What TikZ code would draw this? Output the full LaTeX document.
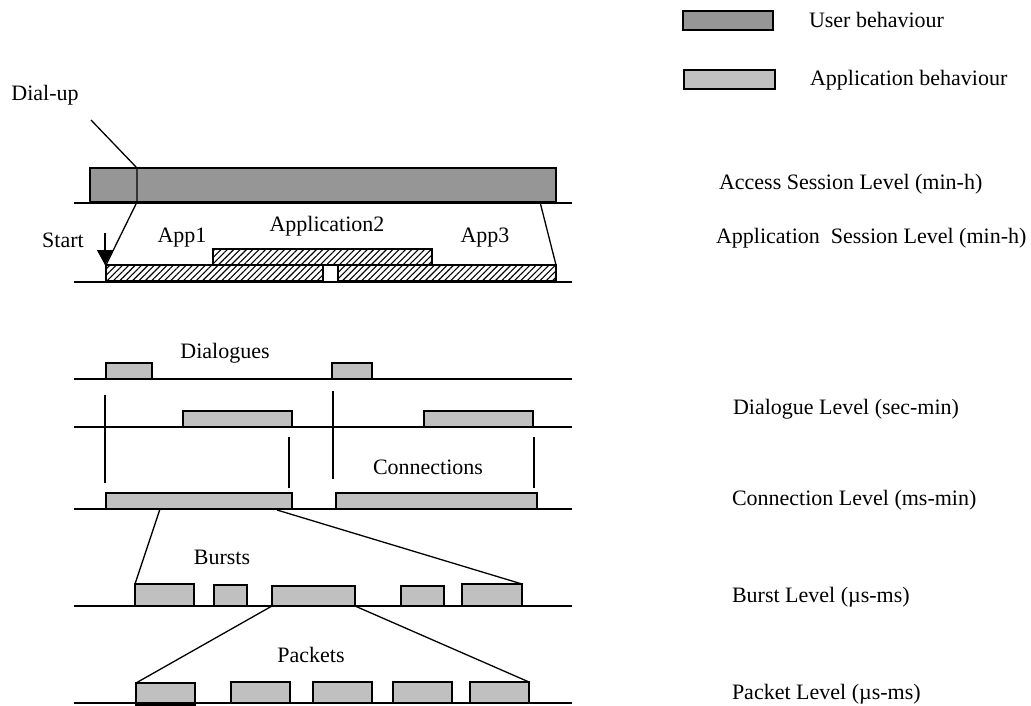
\documentclass[tikz,border=0pt]{standalone}
\usepackage{fontspec}
\setmainfont{Liberation Serif}
\usetikzlibrary{patterns.meta,arrows.meta}
\definecolor{usergray}{RGB}{150,150,150}
\definecolor{appgray}{RGB}{192,192,192}
\tikzset{
  every node/.style={font=\fontsize{22}{26}\selectfont, inner sep=0pt, outer sep=0pt},
  lvl/.style={line width=1.6pt},
  conn/.style={line width=1.3pt},
  userbox/.style={draw, line width=1.3pt, fill=usergray, anchor=south west},
  appbox/.style={draw, line width=1.3pt, fill=appgray, anchor=south west},
  hatchbox/.style={draw, line width=1.2pt, fill=white, anchor=south west,
     postaction={pattern={Lines[angle=45,distance=4.5pt,line width=1.1pt]}}},
  lbl/.style={anchor=west},
}
\newcommand{\bx}[6]{% style, name, x1, y1(top), x2, y2(bottom)
  \node[#1, minimum width={#5-#3}, minimum height={#6-#4}] (#2) at (#3,#6) {};}
\begin{document}
\begin{tikzpicture}[x=1pt,y=-1pt]
\useasboundingbox (0,0) rectangle (1031,706);
% legend
\bx{userbox}{legU}{683}{11}{773}{30}
\node[lbl] (legUt) at (809,20) {User behaviour};
\bx{appbox}{legA}{684}{70}{775}{89}
\node[lbl] (legAt) at (810,80) {Application behaviour};
% right labels
\node[lbl] (l1) at (719,184) {Access Session Level (min-h)};
\node[lbl] (l2) at (716,238) {Application\ \ Session Level (min-h)};
\node[lbl] (l3) at (733,409) {Dialogue Level (sec-min)};
\node[lbl] (l4) at (732,500) {Connection Level (ms-min)};
\node[lbl] (l5) at (732,597) {Burst Level (µs-ms)};
\node[lbl] (l6) at (732,694) {Packet Level (µs-ms)};
% level 1
\bx{userbox}{sess}{90}{168}{556}{202}
\draw[lvl] (74,203) coordinate (L1a) -- (572,203) coordinate (L1b);
\node (dial) at (45,95) {Dial-up};
\coordinate (dialA) at (91,120);
\coordinate (dialT) at (137,168);
\coordinate (dialB) at (137,202);
\coordinate (sessR) at (540,202);
\draw[conn] (dialA) -- (dialT) -- (dialB);
% level 2
\bx{hatchbox}{happ2}{213}{249}{432}{265}
\bx{hatchbox}{happ1}{106}{265}{323}{281}
\bx{hatchbox}{happ3}{338}{265}{556}{281}
\draw[lvl] (74,282) -- (572,282);
\draw[conn] (dialB) -- (happ1.north west);
\draw[conn] (sessR) -- (happ3.north east);
\node (start) at (63,240) {Start};
\coordinate (startA) at (105,233);
\draw[conn,-{Triangle[width=16pt,length=15pt]}] (startA) -- (happ1.north west -| startA);
\node (app1) at (182,238) {App1};
\node (app2) at (327,226) {Application2};
\node (app3) at (485,238) {App3};
% level 3 dialogues
\bx{appbox}{d1}{106}{363}{152}{379}
\bx{appbox}{d2}{332}{363}{372}{379}
\draw[lvl] (74,379) -- (572,379);
\node (dlg) at (225,353) {Dialogues};
% level 4
\bx{appbox}{e1}{183}{411}{292}{427}
\bx{appbox}{e2}{424}{411}{533}{427}
\draw[lvl] (74,427) -- (572,427);
\draw[conn] (105,395) -- (105,483);
\draw[conn] (333,391) -- (333,479);
\draw[conn] (289,437) -- (289,488);
\draw[conn] (534,437) -- (534,488);
\node (cns) at (428,467) {Connections};
% level 5 connections
\bx{appbox}{c1}{106}{493}{292}{509}
\bx{appbox}{c2}{336}{493}{537}{509}
\draw[lvl] (74,509) -- (572,509);
% level 6 bursts
\bx{appbox}{b1}{135}{584}{194}{606}
\bx{appbox}{b2}{214}{585}{247}{606}
\bx{appbox}{b3}{272}{586}{355}{606}
\bx{appbox}{b4}{401}{586}{444}{606}
\bx{appbox}{b5}{462}{584}{522}{606}
\draw[lvl] (74,606) -- (572,606);
\coordinate (c1a) at (160,509);
\coordinate (c1b) at (277,510);
\draw[conn] (c1a) -- (b1.north west);
\draw[conn] (c1b) -- (b5.north east);
\node (bst) at (222,557) {Bursts};
% level 7 packets
\bx{appbox}{p1}{136}{683}{195}{705}
\bx{appbox}{p2}{231}{682}{290}{703}
\bx{appbox}{p3}{313}{682}{372}{703}
\bx{appbox}{p4}{393}{682}{452}{703}
\bx{appbox}{p5}{470}{682}{529}{703}
\draw[lvl] (74,703) -- (572,703);
\draw[conn] (b3.south west) -- (p1.north west);
\draw[conn] (b3.south east) -- (p5.north east);
\node (pkt) at (311,655) {Packets};
\end{tikzpicture}
\end{document}
